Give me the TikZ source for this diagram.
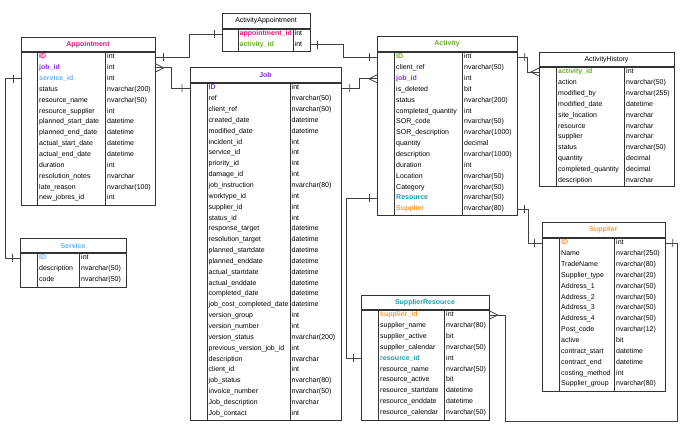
\documentclass[tikz,border=0pt]{standalone}
\usepackage{fontspec}
\setmainfont{Liberation Sans}
\definecolor{apppink}{RGB}{224,22,124}
\definecolor{jobviolet}{RGB}{140,40,240}
\definecolor{srvblue}{RGB}{102,178,255}
\definecolor{actgreen}{RGB}{110,170,40}
\definecolor{resteal}{RGB}{20,160,170}
\definecolor{suporange}{RGB}{255,153,51}

\begin{document}
\begin{tikzpicture}[x=1pt,y=-1pt,
  tbl/.style={draw=black!80,line width=0.8pt,inner sep=0pt,anchor=north west},
  ttl/.style={font=\fontsize{7}{8}\selectfont},
  fld/.style={anchor=west,inner sep=0pt,text height=5.2pt,text depth=1.6pt,font=\fontsize{7}{8}\selectfont},
  pl/.style={},
  appk/.style={text=apppink,font=\fontsize{7}{8}\selectfont\bfseries},
  jobk/.style={text=jobviolet,font=\fontsize{7}{8}\selectfont\bfseries},
  srvk/.style={text=srvblue,font=\fontsize{7}{8}\selectfont\bfseries},
  actk/.style={text=actgreen,font=\fontsize{7}{8}\selectfont\bfseries},
  resk/.style={text=resteal,font=\fontsize{7}{8}\selectfont\bfseries},
  supk/.style={text=suporange,font=\fontsize{7}{8}\selectfont\bfseries},
  conn/.style={draw=black!75,line width=0.8pt}]
  \useasboundingbox (0,0) rectangle (688,431);

  % table frames: name/left/top/right/header/bottom/keycol/typecol/style/title
  \foreach \nm/\l/\t/\r/\h/\b/\k/\c/\st/\tx in {
      appointment/21/37/155/52/205/37/105/appk/Appointment,
      service/20/238/126/253/287/37/79/srvk/Service,
      job/190/67/341/83/420/207/290/jobk/Job,
      actappt/222/13/310/29/51/238/293/pl/ActivityAppointment,
      activity/377/36/517/52/215/394/462/actk/Activity,
      acthist/539/52/674/67/186/556/624/pl/ActivityHistory,
      supres/361/295/489/310/420/378/444/resk/SupplierResource,
      supplier/542/222/665/238/391/559/614/supk/Supplier}{
    \node[tbl,minimum width={(\r-\l)*1pt},minimum height={(\b-\t)*1pt}] (\nm) at (\l,\t) {};
    \draw[black!80,line width=1.3pt] (\l,\h) -- (\r,\h);
    \draw[black!80,line width=0.8pt] (\k,\h) -- (\k,\b) (\c,\h) -- (\c,\b);
    \node[ttl,\st] (\nm-title) at ({(\l+\r)/2},{(\t+\h)/2}) {\tx};
  }

  % Appointment
  \foreach \n/\ty/\s [count=\i] in {ID/int/appk, job\_id/int/jobk, service\_id/int/srvk,
      status/nvarchar(200)/pl, resource\_name/nvarchar(50)/pl, resource\_supplier/int/pl,
      planned\_start\_date/datetime/pl, planned\_end\_date/datetime/pl,
      actual\_start\_date/datetime/pl, actual\_end\_date/datetime/pl, duration/int/pl,
      resolution\_notes/nvarchar/pl, late\_reason/nvarchar(100)/pl, new\_jobres\_id/int/pl}{
    \node[fld,\s] (app\i) at (39,{57+(\i-1)*10.85}) {\n};
    \node[fld] (app\i t) at (107,{57+(\i-1)*10.85}) {\ty};
  }

  % Service
  \foreach \n/\ty/\s [count=\i] in {ID/int/srvk, description/nvarchar(50)/pl, code/nvarchar(50)/pl}{
    \node[fld,\s] (srv\i) at (39,{258+(\i-1)*10.85}) {\n};
    \node[fld] (srv\i t) at (81,{258+(\i-1)*10.85}) {\ty};
  }

  % Job
  \foreach \n/\ty/\s [count=\i] in {ID/int/jobk, ref/nvarchar(50)/pl, client\_ref/nvarchar(50)/pl,
      created\_date/datetime/pl, modified\_date/datetime/pl, incident\_id/int/pl,
      service\_id/int/pl, priority\_id/int/pl, damage\_id/int/pl,
      job\_instruction/nvarchar(80)/pl, worktype\_id/int/pl, supplier\_id/int/pl,
      status\_id/int/pl, response\_target/datetime/pl, resolution\_target/datetime/pl,
      planned\_startdate/datetime/pl, planned\_enddate/datetime/pl,
      actual\_startdate/datetime/pl, actual\_enddate/datetime/pl,
      completed\_date/datetime/pl, job\_cost\_completed\_date/datetime/pl,
      version\_group/int/pl, version\_number/int/pl, version\_status/nvarchar(200)/pl,
      previous\_version\_job\_id/int/pl, description/nvarchar/pl, client\_id/int/pl,
      job\_status/nvarchar(80)/pl, invoice\_number/nvarchar(50)/pl,
      Job\_description/nvarchar/pl, Job\_contact/int/pl}{
    \node[fld,\s] (job\i) at (208.5,{88+(\i-1)*10.85}) {\n};
    \node[fld] (job\i t) at (291.5,{88+(\i-1)*10.85}) {\ty};
  }

  % ActivityAppointment
  \foreach \n/\ty/\s [count=\i] in {appointment\_id/int/appk, activity\_id/int/actk}{
    \node[fld,\s] (aa\i) at (239.5,{34+(\i-1)*10.5}) {\n};
    \node[fld] (aa\i t) at (294.5,{34+(\i-1)*10.5}) {\ty};
  }

  % Activity
  \foreach \n/\ty/\s [count=\i] in {ID/int/actk, client\_ref/nvarchar(50)/pl, job\_id/int/jobk,
      is\_deleted/bit/pl, status/nvarchar(200)/pl, completed\_quantity/int/pl,
      SOR\_code/nvarchar(50)/pl, SOR\_description/nvarchar(1000)/pl, quantity/decimal/pl,
      description/nvarchar(1000)/pl, duration/int/pl, Location/nvarchar(50)/pl,
      Category/nvarchar(50)/pl, Resource/nvarchar(50)/resk, Supplier/nvarchar(80)/supk}{
    \node[fld,\s] (act\i) at (396,{57+(\i-1)*10.85}) {\n};
    \node[fld] (act\i t) at (464,{57+(\i-1)*10.85}) {\ty};
  }

  % ActivityHistory
  \foreach \n/\ty/\s [count=\i] in {activity\_id/int/actk, action/nvarchar(50)/pl,
      modified\_by/nvarchar(255)/pl, modified\_date/datetime/pl, site\_location/nvarchar/pl,
      resource/nvarchar/pl, supplier/nvarchar/pl, status/nvarchar(50)/pl,
      quantity/decimal/pl, completed\_quantity/decimal/pl, description/nvarchar/pl}{
    \node[fld,\s] (ah\i) at (558,{72+(\i-1)*10.85}) {\n};
    \node[fld] (ah\i t) at (626,{72+(\i-1)*10.85}) {\ty};
  }

  % SupplierResource
  \foreach \n/\ty/\s [count=\i] in {supplier\_id/int/supk, supplier\_name/nvarchar(80)/pl,
      supplier\_active/bit/pl, supplier\_calendar/nvarchar(50)/pl, resource\_id/int/resk,
      resource\_name/nvarchar(50)/pl, resource\_active/bit/pl,
      resource\_startdate/datetime/pl, resource\_enddate/datetime/pl,
      resource\_calendar/nvarchar(50)/pl}{
    \node[fld,\s] (sr\i) at (380,{315+(\i-1)*10.85}) {\n};
    \node[fld] (sr\i t) at (446,{315+(\i-1)*10.85}) {\ty};
  }

  % Supplier
  \foreach \n/\ty/\s [count=\i] in {ID/int/supk, Name/nvarchar(250)/pl, TradeName/nvarchar(80)/pl,
      Supplier\_type/nvarchar(20)/pl, Address\_1/nvarchar(50)/pl, Address\_2/nvarchar(50)/pl,
      Address\_3/nvarchar(50)/pl, Address\_4/nvarchar(50)/pl, Post\_code/nvarchar(12)/pl,
      active/bit/pl, contract\_start/datetime/pl, contract\_end/datetime/pl,
      costing\_method/int/pl, Supplier\_group/nvarchar(80)/pl}{
    \node[fld,\s] (sup\i) at (561,{243+(\i-1)*10.85}) {\n};
    \node[fld] (sup\i t) at (616,{243+(\i-1)*10.85}) {\ty};
  }

  % relations
  \draw[conn] (appointment.east |- app1) coordinate (r1a) -- ++(34,0) |- (actappt.west |- aa1) coordinate (r1b);
  \draw[conn] (r1a) ++(8,-4) -- ++(0,8) (r1b) ++(-8,-4) -- ++(0,8);

  \draw[conn] (appointment.east |- app2) coordinate (r2a) -- ++(16,0) |- (job.west |- job1) coordinate (r2b);
  \draw[conn] (r2a) ++(0,-4) -- ++(8,4) -- ++(-8,4) (r2b) ++(-8,-4) -- ++(0,8);

  \draw[conn] (appointment.west |- app3) coordinate (r3a) -- ++(-16,0) |- (service.west |- srv1) coordinate (r3b);
  \draw[conn] (r3a) ++(-8,-4) -- ++(0,8) (r3b) ++(-8,-4) -- ++(0,8);

  \draw[conn] (actappt.east |- aa2) coordinate (r4a) -- ++(33,0) |- (activity.west |- act1) coordinate (r4b);
  \draw[conn] (r4a) ++(7,-4) -- ++(0,8) (r4b) ++(-8,-4) -- ++(0,8);

  \draw[conn] (job.east |- job1) coordinate (r5a) -- ++(18,0) |- (activity.west |- act3) coordinate (r5b);
  \draw[conn] (r5a) ++(8,-4) -- ++(0,8) (r5b) ++(0,-4) -- ++(-8,4) -- ++(8,4);

  \draw[conn] (activity.east |- act1) coordinate (r6a) -- ++(10,0) |- (acthist.west |- ah1) coordinate (r6b);
  \draw[conn] (r6a) ++(7,-4) -- ++(0,8) (r6b) ++(0,-4) -- ++(-8,4) -- ++(8,4);

  \draw[conn] (activity.west |- act14) coordinate (r7a) -- ++(-31,0) |- (supres.west |- sr5) coordinate (r7b);
  \draw[conn] (r7a) ++(-8,-4) -- ++(0,8) (r7b) ++(-8,-4) -- ++(0,8);

  \draw[conn] (activity.east |- act15) coordinate (r8a) -- ++(11,0) |- (supplier.west |- sup1) coordinate (r8b);
  \draw[conn] (r8a) ++(7,-4) -- ++(0,8) (r8b) ++(-8,-4) -- ++(0,8);

  \draw[conn] (supres.east |- sr1) coordinate (r9a) -- ++(16,0) -- ++(0,106) -- ++(172,0) |- (supplier.east |- sup1) coordinate (r9b);
  \draw[conn] (r9a) ++(0,-4) -- ++(8,4) -- ++(-8,4) (r9b) ++(7,-4) -- ++(0,8);
\end{tikzpicture}
\end{document}
